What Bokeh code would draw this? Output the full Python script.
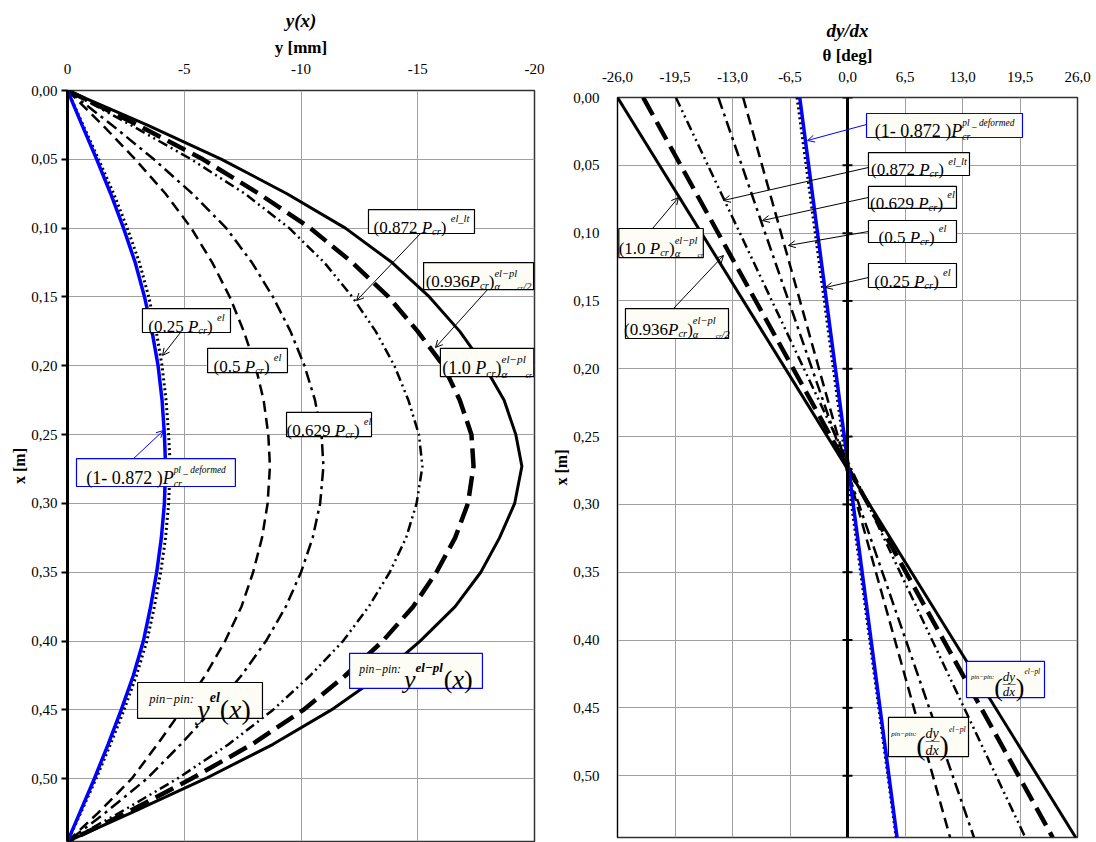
from bokeh.plotting import figure
from bokeh.models import (Range1d, FixedTicker, CustomJSTickFormatter, Label, Arrow,
                          OpenHead, Span)
from bokeh.layouts import row
from bokeh.embed import file_html
from bokeh.resources import INLINE

# ---------------- data ----------------
L_col = 0.5456  # column length [m]

# left panel: deflection y(x) [mm]
x_defl = [0.0, 0.025, 0.05, 0.075, 0.10, 0.125, 0.15, 0.175, 0.20, 0.225, 0.25, 0.273,
          0.30, 0.325, 0.35, 0.375, 0.40, 0.425, 0.45, 0.475, 0.50, 0.525, 0.5456]
y_pl_deformed = [0, -0.62, -1.25, -1.85, -2.40, -2.90, -3.30, -3.62, -3.88, -4.05, -4.15, -4.20,
                 -4.15, -4.02, -3.82, -3.56, -3.25, -2.82, -2.30, -1.74, -1.15, -0.52, 0]
y_025 = [0, -0.66, -1.33, -1.98, -2.56, -3.08, -3.48, -3.80, -4.05, -4.22, -4.33, -4.40,
         -4.33, -4.20, -3.99, -3.72, -3.40, -2.95, -2.42, -1.84, -1.22, -0.56, 0]
y_050 = [0, -1.50, -2.90, -4.20, -5.30, -6.20, -6.95, -7.55, -8.05, -8.40, -8.60, -8.67,
         -8.57, -8.33, -7.95, -7.45, -6.75, -5.90, -4.90, -3.85, -2.75, -1.30, 0]
y_0629 = [0, -1.90, -3.70, -5.35, -6.80, -7.90, -8.80, -9.55, -10.15, -10.60, -10.88, -10.96,
          -10.82, -10.50, -10.00, -9.35, -8.50, -7.45, -6.20, -4.85, -3.40, -1.60, 0]
y_0872 = [0, -2.70, -5.30, -7.60, -9.50, -11.00, -12.20, -13.20, -14.00, -14.60, -15.05, -15.20,
          -14.95, -14.50, -13.80, -12.90, -11.80, -10.40, -8.80, -6.90, -4.70, -2.20, 0]
y_0936 = [0, -3.00, -5.80, -8.20, -10.40, -12.20, -13.75, -15.00, -16.10, -16.80, -17.30, -17.39,
          -17.15, -16.60, -15.80, -14.80, -13.50, -11.90, -10.10, -7.90, -5.30, -2.50, 0]
y_100 = [0, -3.40, -6.60, -9.40, -11.90, -13.90, -15.50, -16.80, -17.85, -18.70, -19.20, -19.46,
         -19.15, -18.50, -17.70, -16.60, -15.10, -13.40, -11.30, -8.80, -5.90, -2.70, 0]

# right panel: rotation theta(x) [deg]
x_rot = [0.0, 0.5456]
t_pl_deformed = [-5.4, 5.6]
t_025 = [-5.7, 5.5]
t_050 = [-11.8, 11.6]
t_0629 = [-14.6, 14.3]
t_0872 = [-19.4, 20.1]
t_0936 = [-23.1, 23.2]
t_100 = [-26.0, 25.8]

x_ticks = [0.0, 0.05, 0.10, 0.15, 0.20, 0.25, 0.30, 0.35, 0.40, 0.45, 0.50]
y_mm_ticks = [0, -5, -10, -15, -20]
theta_ticks = [-26.0, -19.5, -13.0, -6.5, 0.0, 6.5, 13.0, 19.5, 26.0]

SERIF = "Liberation Serif"

# ---------------- styles ----------------
STY = {
    "100": dict(line_color="black", line_width=3),
    "0936": dict(line_color="black", line_width=4.5, line_dash="20 8"),
    "0872": dict(line_color="black", line_width=2.5, line_dash="10 4 2 4 2 4"),
    "0629": dict(line_color="black", line_width=2.5, line_dash="12 5 3 5"),
    "050": dict(line_color="black", line_width=2.5, line_dash="11 6"),
    "025": dict(line_color="black", line_width=3, line_dash="2 3"),
    "pl": dict(line_color="#0000ff", line_width=3.5),
}

# Times-like advance widths (em)
W_N = {'(': .333, ')': .333, '.': .25, ' ': .25, 'P': .556, 'c': .444, 'r': .333, 'e': .444,
       'l': .278, '_': .5, 't': .278, '-': .333, '\u2212': .564, 'p': .5, '\u03b1': .55, '/': .278,
       'd': .5, 'f': .333, 'o': .5, 'm': .778, 'i': .278, 'n': .5, 'y': .5, 'x': .5, ':': .278,
       '\u2014': 1.0}
W_I = {'P': .611, 'c': .444, 'r': .389, 'e': .444, 'l': .278, 't': .278, 'p': .5, 'y': .444,
       'x': .444, 'd': .5, 'f': .278, 'o': .5, 'm': .722, 'i': .278, 'n': .5, '\u03b1': .55,
       ':': .333, '\u2212': .675, '-': .333, '_': .5, ' ': .25, '/': .278, '(': .333, ')': .333}
STYLE = {'n': 'normal', 'i': 'italic', 'b': 'bold', 'bi': 'bold italic'}


def text_w(s, size, italic):
    tbl = W_I if italic else W_N
    return sum(tbl.get(c, 0.5) for c in s) * size


def rich_label(p, box, pieces, M, pxu, border="black", fill="white"):
    x0, y0, x1, y1 = box
    p.quad(left=[x0], right=[x1], top=[y0], bottom=[y1], fill_color=fill,
           line_color=border, line_width=1.2)
    xs, cur, stack_w = [], 0.0, 0.0
    for (t, rs, st, dy, adv) in pieces:
        w = text_w(t, M * rs, 'i' in st)
        xs.append(cur)
        if adv:
            cur += max(w, stack_w)
            stack_w = 0.0
        else:
            stack_w = max(stack_w, w)
    total = cur + stack_w
    box_w = abs(x1 - x0) * pxu
    pad = (box_w - total) / 2
    cy = (y0 + y1) / 2
    for (t, rs, st, dy, adv), xo in zip(pieces, xs):
        p.add_layout(Label(x=x0, y=cy, x_offset=pad + xo, y_offset=-0.33 * M + dy * M,
                           text=t, text_font=SERIF, text_font_size=f"{M * rs:.1f}px",
                           text_font_style=STYLE[st], text_baseline="alphabetic",
                           text_align="left", text_color="black"))


def arrow(p, xs, ys, xe, ye, color="black"):
    p.add_layout(Arrow(end=OpenHead(size=7, line_width=1, line_color=color),
                       x_start=xs, y_start=ys, x_end=xe, y_end=ye,
                       line_color=color, line_width=1))


def el_label(coef):
    return [("(" + coef + " ", 1, 'n', 0, True), ("P", 1, 'i', 0, True),
            ("cr", .62, 'i', -.25, True), (" )", 1, 'n', 0, True),
            ("el", .62, 'i', .5, True)]


LT = [("(0.872 ", 1, 'n', 0, True), ("P", 1, 'i', 0, True), ("cr", .62, 'i', -.25, True),
      (" )", 1, 'n', 0, True), ("el_lt", .62, 'i', .5, True)]


def elpl_label(coef, half):
    sub = [("\u03b1", .62, 'i', -.3, True), ("cr", .42, 'i', -.4, True)]
    if half:
        sub.append(("/2", .62, 'i', -.3, True))
    return ([("(" + coef, 1, 'n', 0, True), ("P", 1, 'i', 0, True),
             ("cr", .62, 'i', -.25, True), (")", 1, 'n', 0, True),
             ("el\u2212pl", .62, 'i', .5, False)] + sub)


PLDEF = [("(1- 0.872 )", 1, 'n', 0, True), ("P", 1, 'i', 0, True),
         ("pl _ deformed", .52, 'i', .45, False), ("cr", .55, 'i', -.3, True)]


def pinpin_y(sup):
    return [("pin\u2212pin:", .45, 'i', .4, True), (" ", .45, 'n', 0, True),
            ("y", 1, 'i', 0, True), (sup, .5, 'bi', .45, True),
            ("(", 1, 'n', 0, True), ("x", 1, 'i', 0, True), (")", 1, 'n', 0, True)]


PINPIN_D = [("pin\u2212pin:", .5, 'i', .55, True), ("(", 2.0, 'n', -.25, True),
            ("dy", 1, 'i', .55, False), ("\u2014", 1, 'n', .08, False),
            ("dx", 1, 'i', -.6, True), (")", 2.0, 'n', -.25, True),
            ("el\u2212pl", .55, 'i', .9, True)]


def base_fig(width, x_range, ticks, fmt, min_left, min_right, min_top, min_bottom):
    p = figure(width=width, height=842, x_range=x_range, y_range=Range1d(L_col, 0),
               x_axis_location="above", output_backend="svg", toolbar_location=None,
               min_border_left=min_left, min_border_right=min_right,
               min_border_top=min_top, min_border_bottom=min_bottom)
    if 'frame_align' in p.properties():
        p.frame_align = False
    p.outline_line_color = "#333333"
    p.outline_line_width = 1.5
    p.background_fill_color = "white"
    p.border_fill_color = "white"
    p.xaxis.ticker = FixedTicker(ticks=ticks)
    p.xaxis.formatter = CustomJSTickFormatter(code=fmt)
    p.yaxis.ticker = FixedTicker(ticks=x_ticks)
    p.yaxis.formatter = CustomJSTickFormatter(code="return tick.toFixed(2).replace('.', ',');")
    for ax in (p.xaxis[0], p.yaxis[0]):
        ax.major_label_text_font = SERIF
        ax.major_label_text_font_size = "15px"
        ax.major_label_text_color = "black"
        ax.axis_label_text_font = SERIF
        ax.axis_label_text_font_style = "bold"
        ax.axis_label_text_font_size = "17px"
        ax.axis_label_text_color = "black"
        ax.minor_tick_line_color = None
    p.yaxis.axis_label_text_font_size = "16px"
    p.yaxis.axis_label_standoff = 0
    p.xaxis.axis_line_color = None
    p.xaxis.major_tick_line_color = None
    p.xaxis.major_label_standoff = 12
    p.xaxis.axis_label_standoff = 4
    p.grid.grid_line_color = "#a0a0a0"
    p.grid.grid_line_width = 1
    p.title.text_font = SERIF
    p.title.text_font_style = "bold italic"
    p.title.text_font_size = "19px"
    p.title.align = "center"
    p.title.text_color = "black"
    return p


# ---------------- left panel ----------------
p1 = base_fig(545, Range1d(0, -20), y_mm_ticks, "return tick.toFixed(0);", 67, 11, 90, 1)
p1.title.text = "y(x)"
p1.title.standoff = 8
p1.xaxis.major_label_standoff = 11
p1.xaxis.axis_label = "y [mm]"
p1.yaxis.axis_label = "x [m]"
p1.yaxis.axis_line_width = 3
p1.yaxis.axis_line_color = "black"
p1.yaxis.major_tick_out = 6
p1.yaxis.major_tick_in = 0
p1.yaxis.major_tick_line_width = 2
p1.yaxis.major_label_standoff = 4

for key, ys in [("100", y_100), ("0936", y_0936), ("0872", y_0872), ("0629", y_0629),
                ("050", y_050), ("025", y_025), ("pl", y_pl_deformed)]:
    p1.line(ys, x_defl, **STY[key])

PX_L = 467 / 20.0
rich_label(p1, (-12.89, 0.0865, -17.43, 0.1039), LT, 17, PX_L)
arrow(p1, -15.12, 0.1039, -12.38, 0.1526)
rich_label(p1, (-15.25, 0.125, -19.96, 0.1446), elpl_label("0.936", True), 17, PX_L, fill="#fdfdf5")
arrow(p1, -17.99, 0.1446, -15.76, 0.1867)
rich_label(p1, (-15.97, 0.1874, -19.97, 0.2078), elpl_label("1.0 ", False), 18, PX_L, fill="#fdfdf5")
rich_label(p1, (-3.21, 0.1584, -6.98, 0.1758), el_label("0.25"), 17, PX_L)
arrow(p1, -4.84, 0.1758, -4.07, 0.1925)
rich_label(p1, (-6.0, 0.1874, -9.42, 0.2049), el_label("0.5"), 17, PX_L)
rich_label(p1, (-9.38, 0.2339, -13.02, 0.2514), el_label("0.629"), 17, PX_L)
rich_label(p1, (-0.385, 0.2674, -7.19, 0.2877), PLDEF, 18, PX_L, border="#0000ff", fill="#fdfdf5")
arrow(p1, -2.83, 0.2674, -4.11, 0.247, color="#0000ff")
rich_label(p1, (-3.0, 0.4301, -8.35, 0.4562), pinpin_y("el"), 28, PX_L, fill="#fdfdf5")
rich_label(p1, (-12.08, 0.409, -17.77, 0.4344), pinpin_y("el\u2212pl"), 26, PX_L,
           border="#0000ff", fill="#fdfdf5")

# ---------------- right panel ----------------
p2 = base_fig(551, Range1d(-26, 26), theta_ticks,
              "return tick.toFixed(1).replace('.', ',');", 72, 19, 97, 5)
p2.title.text = "dy/dx"
p2.title.standoff = 4
p2.xaxis.axis_label = "\u03b8 [deg]"
p2.yaxis.axis_label = "x [m]"
p2.yaxis.axis_line_color = "black"
p2.yaxis.axis_line_width = 1
p2.yaxis.major_tick_line_color = None
p2.yaxis.major_label_standoff = 12
p2.xaxis.major_label_standoff = 10

p2.add_layout(Span(location=0, dimension="height", line_color="black", line_width=3))
p2.scatter([0.0] * len(x_ticks), x_ticks, marker="dash", size=10, line_color="black",
           line_width=2)

for key, ts in [("100", t_100), ("0936", t_0936), ("0872", t_0872), ("0629", t_0629),
                ("050", t_050), ("025", t_025), ("pl", t_pl_deformed)]:
    p2.line(ts, x_rot, **STY[key])

PX_R = 460 / 52.0
rich_label(p2, (2.15, 0.0118, 19.78, 0.0295), PLDEF, 18, PX_R, border="#0000ff", fill="#fdfdf5")
arrow(p2, 2.15, 0.0199, -4.52, 0.0317, color="#0000ff")
rich_label(p2, (2.37, 0.0406, 13.79, 0.0575), LT, 17, PX_R)
arrow(p2, 2.37, 0.0516, -14.02, 0.0759)
rich_label(p2, (2.37, 0.0656, 12.32, 0.0818), el_label("0.629"), 17, PX_R)
arrow(p2, 2.37, 0.0737, -9.61, 0.0907)
rich_label(p2, (2.37, 0.0907, 12.32, 0.1069), el_label("0.5"), 17, PX_R)
arrow(p2, 2.37, 0.0988, -6.67, 0.1091)
rich_label(p2, (2.37, 0.1224, 12.32, 0.1401), el_label("0.25"), 17, PX_R)
arrow(p2, 2.37, 0.1327, -2.49, 0.1401)
rich_label(p2, (-25.85, 0.0966, -16.3, 0.118), elpl_label("1.0 ", False), 17, PX_R, fill="#fdfdf5")
arrow(p2, -22.04, 0.0966, -19.10, 0.0737)
rich_label(p2, (-25.1, 0.1556, -13.45, 0.1777), elpl_label("0.936", True), 17, PX_R, fill="#fdfdf5")
arrow(p2, -19.67, 0.1556, -14.02, 0.1165)
rich_label(p2, (13.45, 0.4158, 22.27, 0.4424), PINPIN_D, 13, PX_R, border="#0000ff", fill="#fdfdf5")
rich_label(p2, (4.63, 0.4571, 13.68, 0.4859), PINPIN_D, 14, PX_R, fill="#fdfdf5")

layout = row(p1, p2)
open("out.html", "w").write(file_html(layout, INLINE))
